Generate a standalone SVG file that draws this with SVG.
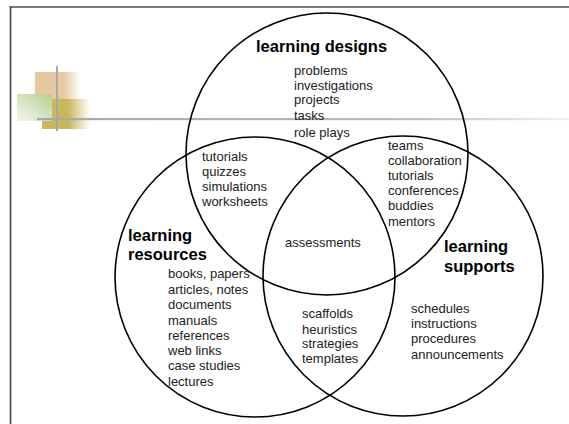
<svg xmlns="http://www.w3.org/2000/svg" width="569" height="424" viewBox="0 0 569 424">
<style>
.c{fill:none;stroke:#000;stroke-width:1.6}
.t{font-family:"Liberation Sans",Arial,sans-serif;font-size:13px;fill:#222}
.h{font-family:"Liberation Sans",Arial,sans-serif;font-size:16.5px;font-weight:bold;fill:#000}
</style>
<defs>
<linearGradient id="gPeach" x1="0" y1="0" x2="1" y2="0"><stop offset="0.65" stop-color="#e6c9a2"/><stop offset="1" stop-color="#e6c9a2" stop-opacity="0"/></linearGradient>
<linearGradient id="gOlive" x1="0" y1="0" x2="1" y2="0"><stop offset="0.55" stop-color="#c9b85c"/><stop offset="1" stop-color="#c9b85c" stop-opacity="0"/></linearGradient>
<linearGradient id="gGreen" x1="1" y1="0" x2="0" y2="1"><stop offset="0" stop-color="#b5cf92"/><stop offset="1" stop-color="#f4f7ee"/></linearGradient>
<linearGradient id="gLine" x1="0" y1="0" x2="1" y2="0"><stop offset="0" stop-color="#a6a6a6"/><stop offset="0.7" stop-color="#bdbdbd"/><stop offset="1" stop-color="#f2f2f2"/></linearGradient>
</defs>
<rect width="569" height="424" fill="#fff"/>
<g id="frame">
<line x1="10" y1="7" x2="569" y2="7" stroke="#7a7a7a" stroke-width="2"/>
<line x1="10.5" y1="6" x2="10.5" y2="424" stroke="#444" stroke-width="1.6"/>
</g>
<g id="decoration">
<rect x="35" y="72" width="45" height="27" fill="url(#gPeach)"/>
<rect x="42" y="99" width="48" height="30" fill="url(#gOlive)"/>
<rect x="17" y="94" width="35" height="27" fill="url(#gGreen)"/>
<rect x="37" y="118" width="532" height="2.2" fill="url(#gLine)"/>
<rect x="56" y="66" width="2" height="65" fill="#a8a8a8"/>
</g>
<g id="learning-designs">
<circle class="c" cx="327" cy="154" r="141"/>
<text class="h" x="256" y="52">learning designs</text>
<text class="t" x="294" y="75">problems</text>
<text class="t" x="294" y="90">investigations</text>
<text class="t" x="294" y="104">projects</text>
<text class="t" x="294" y="119.5">tasks</text>
<text class="t" x="294" y="136.5">role plays</text>
</g>
<g id="learning-resources">
<circle class="c" cx="255" cy="277" r="140"/>
<text class="h" x="128" y="241">learning</text>
<text class="h" x="128" y="260">resources</text>
<text class="t" x="168" y="278">books, papers</text>
<text class="t" x="168" y="294">articles, notes</text>
<text class="t" x="168" y="309">documents</text>
<text class="t" x="168" y="325">manuals</text>
<text class="t" x="168" y="340">references</text>
<text class="t" x="168" y="355">web links</text>
<text class="t" x="168" y="370">case studies</text>
<text class="t" x="168" y="386">lectures</text>
</g>
<g id="learning-supports">
<circle class="c" cx="403" cy="276" r="140"/>
<text class="h" x="444" y="252">learning</text>
<text class="h" x="444" y="272">supports</text>
<text class="t" x="411" y="313">schedules</text>
<text class="t" x="411" y="328">instructions</text>
<text class="t" x="411" y="343">procedures</text>
<text class="t" x="411" y="359">announcements</text>
</g>
<g id="designs-resources">
<text class="t" x="202" y="161">tutorials</text>
<text class="t" x="202" y="176">quizzes</text>
<text class="t" x="202" y="191">simulations</text>
<text class="t" x="202" y="206">worksheets</text>
</g>
<g id="designs-supports">
<text class="t" x="388" y="150">teams</text>
<text class="t" x="388" y="165">collaboration</text>
<text class="t" x="388" y="180">tutorials</text>
<text class="t" x="388" y="195">conferences</text>
<text class="t" x="388" y="210">buddies</text>
<text class="t" x="388" y="226">mentors</text>
</g>
<g id="resources-supports">
<text class="t" x="302" y="318">scaffolds</text>
<text class="t" x="302" y="334">heuristics</text>
<text class="t" x="302" y="348">strategies</text>
<text class="t" x="302" y="363">templates</text>
</g>
<g id="all-three">
<text class="t" x="285" y="247">assessments</text>
</g>
<g id="connectors"/>
</svg>
